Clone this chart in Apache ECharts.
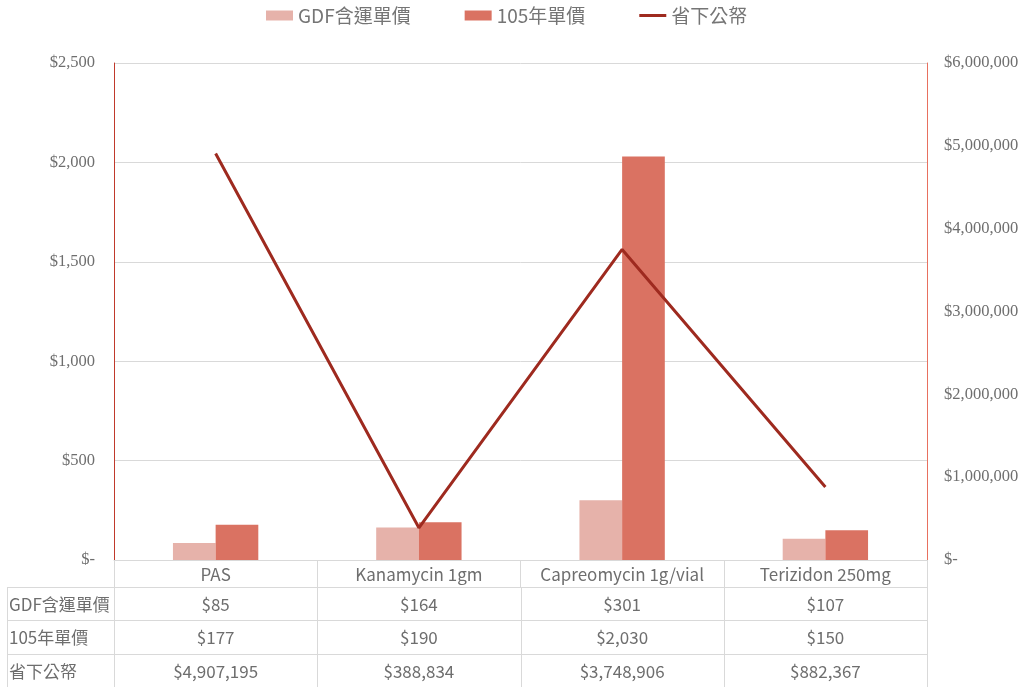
<!DOCTYPE html>
<html>
<head>
<meta charset="utf-8">
<script src="https://cdn.jsdelivr.net/npm/echarts@6/dist/echarts.min.js"></script>
<style>
  html, body { margin: 0; padding: 0; background: #fff; }
  #main { width: 1027px; height: 687px; }
</style>
</head>
<body>
<div id="main"></div>
<script>
// data
var categories = ['PAS', 'Kanamycin 1gm', 'Capreomycin 1g/vial', 'Terizidon 250mg'];
var gdfPrice = [85, 164, 301, 107];
var price105 = [177, 190, 2030, 150];
var savings = [4907195, 388834, 3748906, 882367];
var seriesNames = ['GDF含運單價', '105年單價', '省下公帑'];

var cjk = '"Noto Sans CJK TC", "Noto Sans", sans-serif';
var serif = '"Liberation Serif", "DejaVu Serif", serif';
var textColor = '#6e6e6e';
var lineGray = '#d9d9d9';

var gridLeft = 114, gridRight = 927, gridTop = 63, gridBottom = 560;
var rowLines = [587, 620, 654, 687];
var tableLeft = 7;

function money(v) {
  if (v === 0) return '$-';
  return '$' + v.toString().replace(/\B(?=(\d{3})+(?!\d))/g, ',');
}

var chart = echarts.init(document.getElementById('main'));

var option = {
  animation: false,
  backgroundColor: '#fff',
  legend: {
    top: 1,
    left: 261,
    itemWidth: 27,
    itemHeight: 10,
    itemGap: 54,
    textStyle: { fontFamily: cjk, fontSize: 19, color: '#757575' },
    data: [
      { name: seriesNames[0], icon: 'rect' },
      { name: seriesNames[1], icon: 'rect' },
      { name: seriesNames[2], icon: 'path://M0,0 H100 V11 H0 Z' }
    ]
  },
  grid: {
    left: gridLeft,
    right: 1027 - gridRight,
    top: gridTop,
    bottom: 687 - gridBottom,
    containLabel: false
  },
  xAxis: {
    type: 'category',
    data: categories,
    axisLine: { lineStyle: { color: lineGray, width: 1 } },
    axisTick: { show: true, interval: 0, inside: false, length: 27, lineStyle: { color: lineGray } },
    axisLabel: { interval: 0, hideOverlap: false, fontFamily: cjk, fontSize: 17, color: textColor, margin: 6 }
  },
  yAxis: [
    {
      type: 'value',
      min: 0,
      max: 2500,
      interval: 500,
      axisLine: { show: true, lineStyle: { color: '#c0392b', width: 1 } },
      axisTick: { show: false },
      splitLine: { lineStyle: { color: lineGray } },
      axisLabel: { fontFamily: serif, fontSize: 16.5, color: textColor, margin: 19, formatter: money }
    },
    {
      type: 'value',
      min: 0,
      max: 6000000,
      interval: 1000000,
      axisLine: { show: true, lineStyle: { color: '#e8705f', width: 1 } },
      axisTick: { show: false },
      splitLine: { show: false },
      axisLabel: { fontFamily: serif, fontSize: 16.5, color: textColor, margin: 17, formatter: money }
    }
  ],
  series: [
    {
      name: seriesNames[0],
      type: 'bar',
      data: gdfPrice,
      barGap: '0%',
      barCategoryGap: '58%',
      itemStyle: { color: '#e6b2aa' }
    },
    {
      name: seriesNames[1],
      type: 'bar',
      data: price105,
      itemStyle: { color: '#da7262' }
    },
    {
      name: seriesNames[2],
      type: 'line',
      yAxisIndex: 1,
      data: savings,
      symbol: 'none',
      lineStyle: { color: '#9e2a1f', width: 3 },
      itemStyle: { color: '#9e2a1f' }
    }
  ]
};

chart.setOption(option);

// data table below the x axis
var rows = [gdfPrice, price105, savings];
var graphics = [];
var stroke = { stroke: lineGray, lineWidth: 1 };

rowLines.forEach(function (y) {
  graphics.push({ type: 'line', shape: { x1: tableLeft, y1: y + 0.5, x2: gridRight, y2: y + 0.5 }, style: stroke, silent: true });
});
graphics.push({ type: 'line', shape: { x1: tableLeft + 0.5, y1: rowLines[0], x2: tableLeft + 0.5, y2: 687 }, style: stroke, silent: true });

var step = (gridRight - gridLeft) / categories.length;
for (var c = 0; c <= categories.length; c++) {
  var x = Math.round(gridLeft + step * c) + 0.5;
  graphics.push({ type: 'line', shape: { x1: x, y1: rowLines[0], x2: x, y2: 687 }, style: stroke, silent: true });
}

rows.forEach(function (vals, r) {
  var yMid = (rowLines[r] + (rowLines[r + 1] || 687)) / 2 + 1;
  graphics.push({
    type: 'text', x: 9, y: yMid,
    style: { text: seriesNames[r], fontFamily: cjk, fontSize: 17, fill: textColor, align: 'left', verticalAlign: 'middle' },
    silent: true
  });
  vals.forEach(function (v, i) {
    var cx = chart.convertToPixel({ xAxisIndex: 0 }, categories[i]);
    graphics.push({
      type: 'text', x: cx, y: yMid,
      style: { text: money(v), fontFamily: cjk, fontSize: 17, fill: textColor, align: 'center', verticalAlign: 'middle' },
      silent: true
    });
  });
});

chart.setOption({ graphic: graphics });
</script>
</body>
</html>
